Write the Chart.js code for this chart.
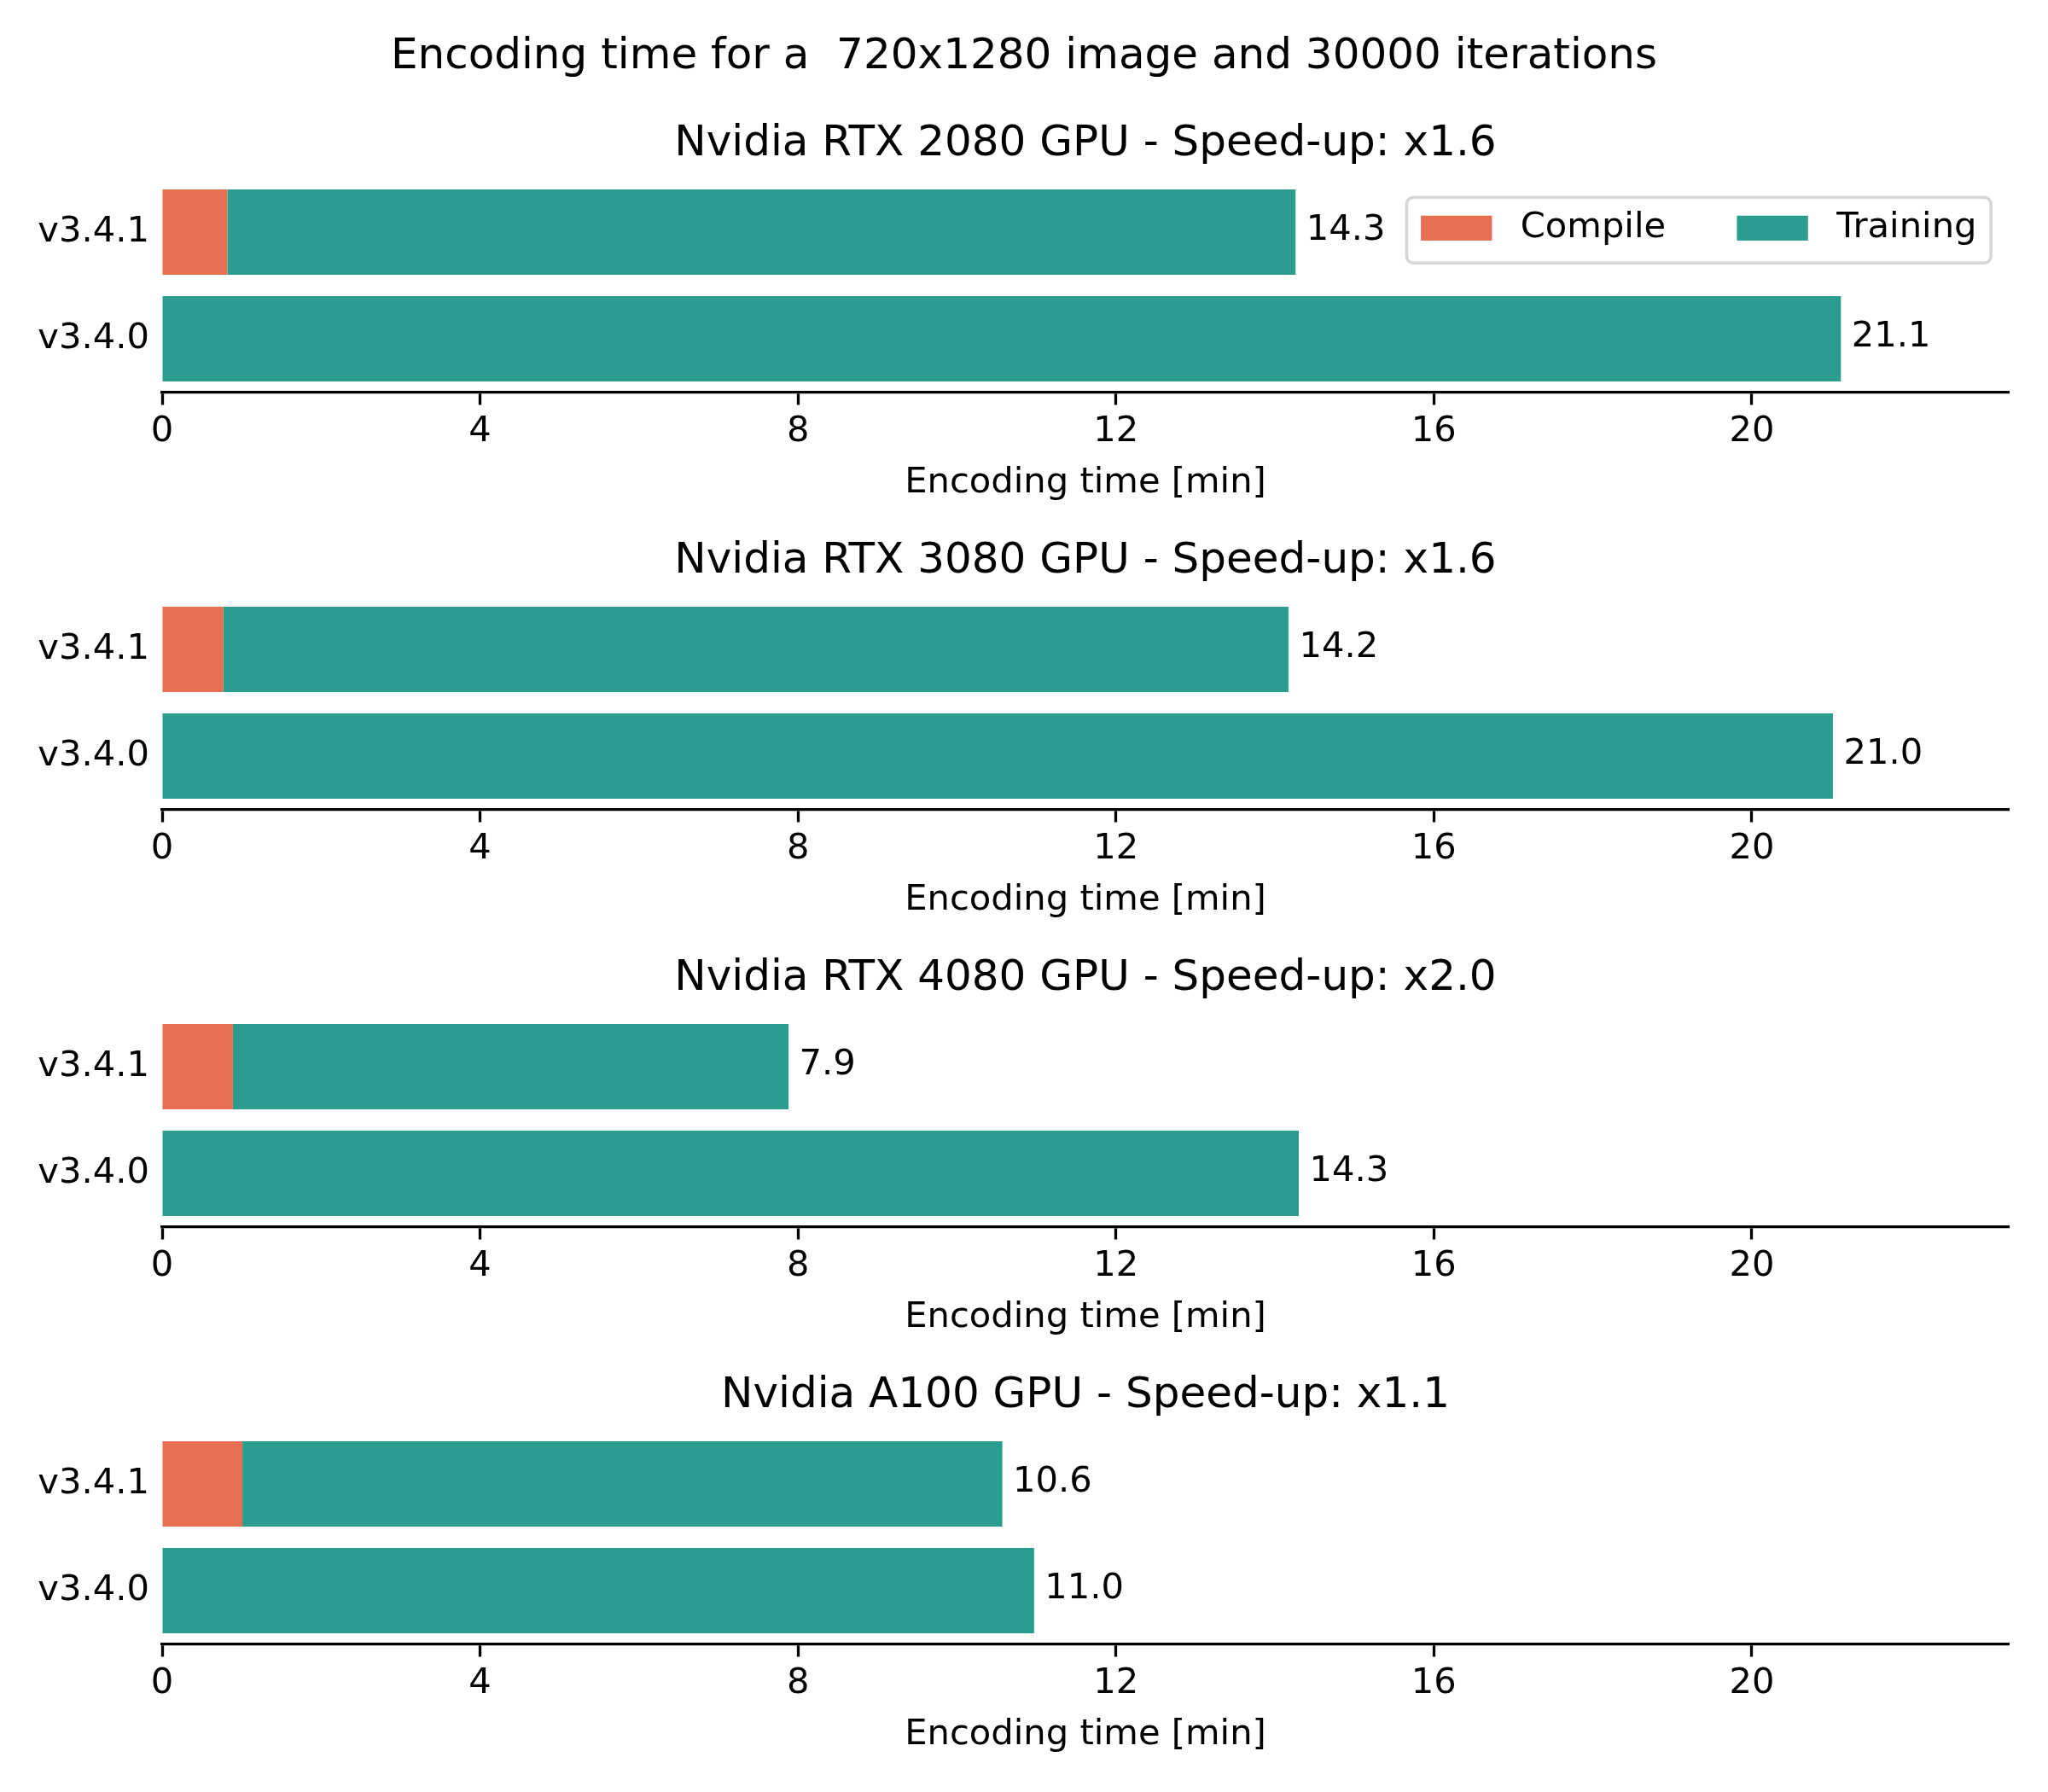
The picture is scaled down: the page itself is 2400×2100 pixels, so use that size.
<!DOCTYPE html>
<html>
<head>
<meta charset="utf-8">
<script src="https://cdn.jsdelivr.net/npm/chart.js@4.4.1/dist/chart.umd.min.js"></script>
<style>
  body { margin: 0; background: #fff; }
  #page { position: relative; width: 2400px; height: 2100px; background: #fff; overflow: hidden; }
  #suptitle {
    position: absolute; left: 0; top: 33px; width: 2400px;
    text-align: center; white-space: pre;
    font-family: "DejaVu Sans"; font-size: 50px; line-height: 60px; color: #000;
  }
  canvas { position: absolute; left: 0; }
</style>
</head>
<body>
<div id="page">
  <div id="suptitle">Encoding time for a  720x1280 image and 30000 iterations</div>
</div>
<script>
const gpus = ["Nvidia RTX 2080 GPU", "Nvidia RTX 3080 GPU", "Nvidia RTX 4080 GPU", "Nvidia A100 GPU"];
const speedups = ["x1.6", "x1.6", "x2.0", "x1.1"];
const versions = ["v3.4.1", "v3.4.0"];
const compileNew = [0.82, 0.77, 0.89, 1.01];
const trainingNew = [13.44, 13.40, 6.99, 9.56];
const trainingOld = [21.12, 21.02, 14.3, 10.97];
const xTicks = [0, 4, 8, 12, 16, 20];

const totalsNew = compileNew.map((c, i) => c + trainingNew[i]);
const xMax = Math.max(...totalsNew, ...trainingOld) * 1.1;

const FS = 41.67; // 10pt at 300 dpi
Chart.defaults.font.family = '"DejaVu Sans"';
Chart.defaults.color = "#000";

// value at the end of each stacked bar
const barLabels = {
  id: "barLabels",
  afterDatasetsDraw(chart) {
    const ctx = chart.ctx;
    ctx.save();
    ctx.font = FS + 'px "DejaVu Sans"';
    ctx.fillStyle = "#000";
    ctx.textAlign = "left";
    ctx.textBaseline = "middle";
    chart.data.labels.forEach((_, j) => {
      let total = 0, end = null;
      chart.data.datasets.forEach((ds, d) => {
        const v = ds.data[j];
        if (v == null) return;
        total += v;
        end = chart.getDatasetMeta(d).data[j];
      });
      if (end) ctx.fillText(total.toFixed(1), end.x + 12.5, end.y - 1.5);
    });
    ctx.restore();
  },
};

// matplotlib-like framed legend, upper right, 2 columns
const legendBox = {
  id: "legendBox",
  afterDraw(chart) {
    const { ctx, chartArea } = chart;
    ctx.save();
    ctx.font = FS + 'px "DejaVu Sans"';
    const items = chart.data.datasets.map(ds => ({
      label: ds.label, color: ds.backgroundColor, w: ctx.measureText(ds.label).width,
    }));
    const pad = 0.4 * FS, hw = 2 * FS, hh = 0.7 * FS, tp = 0.8 * FS, cs = 2 * FS;
    const width = 2 * pad + items.reduce((a, it) => a + hw + tp + it.w, 0) + cs * (items.length - 1);
    const height = 77;
    const right = chartArea.right - 0.5 * FS;
    const top = chartArea.top + 0.5 * FS + 1;
    const left = right - width;
    ctx.beginPath();
    if (ctx.roundRect) ctx.roundRect(left, top, width, height, 8);
    else ctx.rect(left, top, width, height);
    ctx.fillStyle = "rgba(255,255,255,0.8)";
    ctx.fill();
    ctx.strokeStyle = "#d6d6d6";
    ctx.lineWidth = 3.5;
    ctx.stroke();
    let x = left + pad;
    const cy = top + 36;
    items.forEach(it => {
      ctx.fillStyle = it.color;
      ctx.fillRect(x, cy - hh / 2, hw, hh);
      x += hw + tp;
      ctx.fillStyle = "#000";
      ctx.textAlign = "left";
      ctx.textBaseline = "middle";
      ctx.fillText(it.label, x, cy);
      x += it.w + cs;
    });
    ctx.restore();
  },
};

const page = document.getElementById("page");

gpus.forEach((gpu, i) => {
  const canvas = document.createElement("canvas");
  canvas.width = 2400;
  canvas.height = 491;
  canvas.style.top = (100 + 489 * i) + "px";
  page.appendChild(canvas);

  new Chart(canvas, {
    type: "bar",
    data: {
      labels: versions,
      datasets: [
        { label: "Compile", data: [compileNew[i], null], backgroundColor: "#E76F51" },
        { label: "Training", data: [trainingNew[i], trainingOld[i]], backgroundColor: "#2A9D8F" },
      ],
    },
    options: {
      indexAxis: "y",
      responsive: false,
      animation: false,
      layout: { padding: { left: 0, right: 46, top: 0, bottom: 0 } },
      datasets: { bar: { categoryPercentage: 1, barPercentage: 0.8 } },
      scales: {
        x: {
          type: "linear",
          stacked: true,
          min: 0,
          max: xMax,
          afterBuildTicks: s => { s.ticks = xTicks.map(v => ({ value: v })); },
          afterFit: s => { s.height = 131.5; },
          grid: { drawOnChartArea: false, drawTicks: true, tickLength: 15, tickWidth: 3.3, tickColor: "#000" },
          border: { display: true, color: "#000", width: 3.3 },
          ticks: { color: "#000", padding: 7, font: { size: FS }, callback: v => v },
          title: { display: true, text: "Encoding time [min]", color: "#000", font: { size: FS }, padding: 0 },
        },
        y: {
          stacked: true,
          afterFit: s => { s.width = 190; },
          grid: { display: false, drawTicks: false },
          border: { display: false },
          ticks: { color: "#000", padding: 15, font: { size: FS } },
        },
      },
      plugins: {
        legend: { display: false },
        tooltip: { enabled: false },
        title: {
          display: true,
          text: gpu + " - Speed-up: " + speedups[i],
          fullSize: false,
          color: "#000",
          font: { size: 50, weight: "normal" },
          padding: { top: 39.4, bottom: 10.1 },
        },
      },
    },
    plugins: i === 0 ? [barLabels, legendBox] : [barLabels],
  });
});
</script>
</body>
</html>
